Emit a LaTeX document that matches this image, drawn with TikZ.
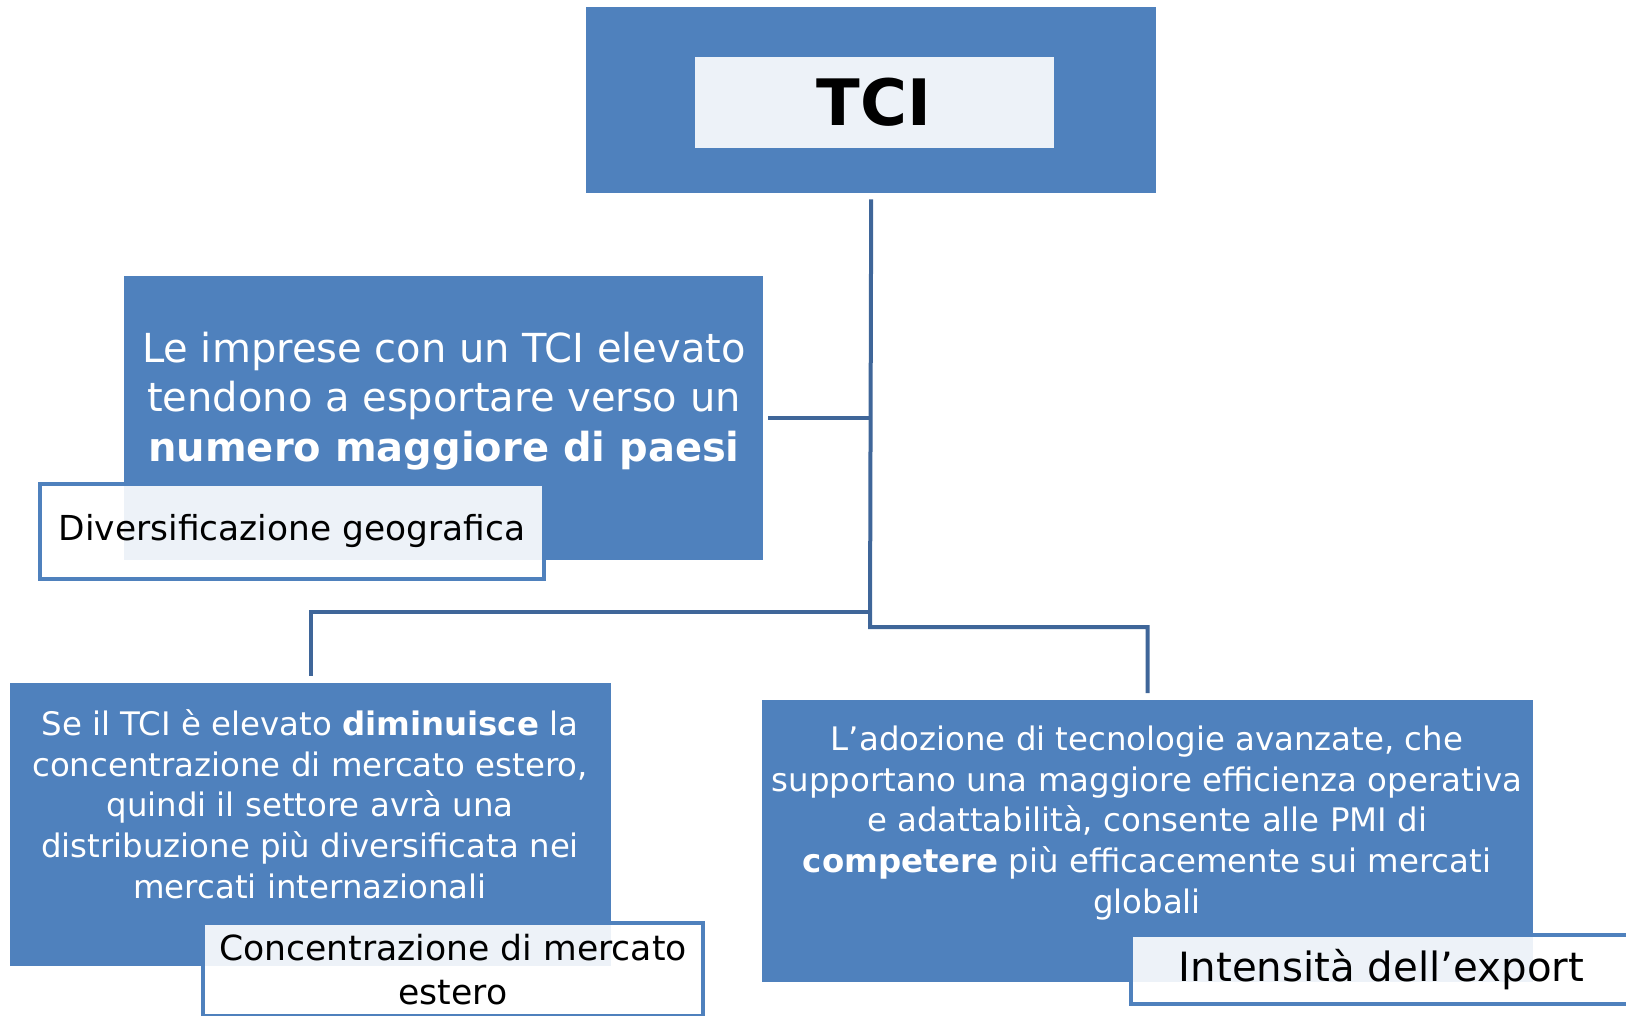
\documentclass[tikz,border=0pt]{standalone}
\usepackage{fontspec}
\setmainfont{DejaVu Sans}
\usepackage{xcolor}
\usepackage{tikz}
\usetikzlibrary{positioning}

\definecolor{boxblue}{HTML}{4F81BD}
\definecolor{linkblue}{HTML}{3F6699}

\begin{document}
\begin{tikzpicture}[x=1pt,y=-1pt,
 box/.style={fill=boxblue,anchor=north west,inner sep=0pt},
 tag/.style={draw=boxblue,line width=4pt,fill=white,fill opacity=0.9,text opacity=1,
  text=black,align=center,inner sep=0pt,anchor=north west},
 txt/.style={text=white,align=center,inner sep=0pt},
 link/.style={draw=linkblue,line width=4pt}]
 \useasboundingbox (0,0) rectangle (1626,1016);

 \node[box,minimum width=570pt,minimum height=186pt] (tci) at (586,7) {};
 \node[fill=white,fill opacity=0.9,text opacity=1,minimum width=359pt,minimum height=91pt,
  font=\fontsize{64}{70}\selectfont\bfseries] (tcitxt) at ([xshift=3pt,yshift=-2pt]tci.center) {TCI};

 \node[box,minimum width=639pt,minimum height=284pt] (geo) at (124,276) {};
 \node[box,minimum width=601pt,minimum height=283pt] (conc) at (10,683) {};
 \node[box,minimum width=771pt,minimum height=282pt] (export) at (762,700) {};

 \node[txt,font=\fontsize{40}{49.5}\selectfont] (geotxt) at (444,401) {Le imprese con un TCI elevato\\
  tendono a esportare verso un\\
  \textbf{numero maggiore di paesi}};
 \node[txt,font=\fontsize{32.4}{40.7}\selectfont] (conctxt) at (310,804) {Se il TCI è elevato \textbf{diminuisce} la\\
  concentrazione di mercato estero,\\
  quindi il settore avrà una\\
  distribuzione più diversificata nei\\
  mercati internazionali};
 \node[txt,font=\fontsize{32.4}{40.7}\selectfont] (exporttxt) at (1147,823) {L’adozione di tecnologie avanzate, che\\
  supportano una maggiore efficienza operativa\\
  e adattabilità, consente alle PMI di\\
  \textbf{competere} più efficacemente sui mercati\\
  globali};

 \node[tag,minimum width=504pt,minimum height=95pt,font=\fontsize{34.4}{40}\selectfont] (geotag) at (38,482) {Diversificazione geografica};
 \node[tag,minimum width=500pt,minimum height=93pt,font=\fontsize{34.6}{44}\selectfont] (conctag) at (201,921) {Concentrazione di mercato\\estero};
 \node[tag,minimum width=501pt,minimum height=69pt,font=\fontsize{40.3}{46}\selectfont] (exporttag) at (1129,933) {Intensità dell’export};

 \coordinate (jl) at (870,612);
 \coordinate (jr) at (870,627);
 \draw[link] ([yshift=-6pt]tci.south) -- (jr) -| ([yshift=7pt]export.north);
 \draw[link] ([xshift=5pt]geo.east) -- (geo.east -| tci.south);
 \draw[link] (jl) -| ([yshift=7pt]conc.north);
\end{tikzpicture}
\end{document}
